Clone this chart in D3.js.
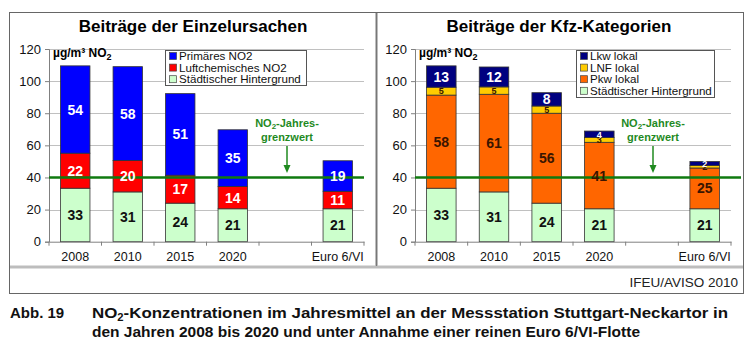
<!DOCTYPE html>
<html lang="de">
<head>
<meta charset="UTF-8">
<script src="https://d3js.org/d3.v7.min.js"></script>
<title>NO2 Stuttgart-Neckartor</title>
<style>
  body { margin: 0; background: #fff; }
  svg { display: block; font-family: "Liberation Sans", Arial, sans-serif; }
</style>
</head>
<body>
<div id="chart"></div>
<script>
// --- Daten ---
const categories = ["2008", "2010", "2015", "2020", "", "Euro 6/VI"];
const yTicks = [0, 20, 40, 60, 80, 100, 120];
const grenzwert = 40;

// linkes Diagramm: Einzelursachen
const hintergrund = [33.3, 31, 24, 20.5, null, 20.5];
const luftchemisch = [21.8, 19.6, 17.4, 13.9, null, 10.9];
const primaer = [54.4, 58.4, 50.8, 35.3, null, 19];

// rechtes Diagramm: Kfz-Kategorien
const pkw = [58, 60.8, 56, 41.4, null, 25.4];
const lnf = [4.9, 4.6, 4.5, 3, null, 1.6];
const lkw = [13.3, 12.4, 8.3, 4, null, 2.4];

const W = 752, H = 348;
const svg = d3.select("#chart").append("svg").attr("width", W).attr("height", H);

// Rahmen
svg.append("rect").attr("x", 9.5).attr("y", 12.5).attr("width", 734).attr("height", 281)
    .attr("fill", "none").attr("stroke", "#666").attr("stroke-width", 1);
svg.append("line").attr("x1", 10).attr("x2", 743).attr("y1", 267).attr("y2", 267)
    .attr("stroke", "#bdbdbd").attr("stroke-width", 3);
svg.append("line").attr("x1", 376.5).attr("x2", 376.5).attr("y1", 13).attr("y2", 266)
    .attr("stroke", "#bdbdbd").attr("stroke-width", 3);
svg.append("line").attr("x1", 376.5).attr("x2", 376.5).attr("y1", 13).attr("y2", 266)
    .attr("stroke", "#777").attr("stroke-width", 1);

const y = d3.scaleLinear().domain([0, 120]).range([241.7, 49]);

function drawPanel(p) {
    const g = svg.append("g");
    const x = d3.scaleBand().domain(categories).range([p.x0, p.x1]).padding(0);
    const bw = x.bandwidth() * 0.56;

    // Titel
    g.append("text").attr("x", p.titleX).attr("y", 32).attr("text-anchor", "middle")
        .attr("font-size", 17).attr("font-weight", "bold").text(p.title);

    // Gitterlinien
    g.selectAll(".grid").data(yTicks.slice(1)).join("line")
        .attr("x1", p.x0).attr("x2", p.x1)
        .attr("y1", d => Math.round(y(d)) + 0.5).attr("y2", d => Math.round(y(d)) + 0.5)
        .attr("stroke", "#c0c0c0");

    // Balken
    p.series.forEach((s, si) => {
        categories.forEach((c, i) => {
            if (s.values[i] == null) return;
            const base = p.series.slice(0, si).reduce((a, t) => a + t.values[i], 0);
            const top = base + s.values[i];
            g.append("rect")
                .attr("x", x(c) + (x.bandwidth() - bw) / 2)
                .attr("y", y(top))
                .attr("width", bw)
                .attr("height", y(base) - y(top))
                .attr("fill", s.color)
                .attr("stroke", "#333").attr("stroke-width", 0.8);
        });
    });

    // Achsen
    const yAxis = g.append("g").attr("transform", `translate(${p.x0},0)`)
        .call(d3.axisLeft(y).tickValues(yTicks).tickSize(4).tickPadding(4));
    yAxis.select(".domain").attr("stroke", "#808080");
    yAxis.selectAll(".tick line").attr("stroke", "#808080");
    yAxis.selectAll("text").attr("font-size", 13).attr("fill", "#111")
        .attr("font-family", "Liberation Sans, Arial, sans-serif");

    const xAxis = g.append("g").attr("transform", `translate(0,${y(0)})`)
        .call(d3.axisBottom(x).tickSize(0).tickPadding(10));
    xAxis.select(".domain").attr("stroke", "#808080");
    xAxis.selectAll("text").attr("font-size", 12.5).attr("fill", "#111")
        .attr("font-family", "Liberation Sans, Arial, sans-serif");
    g.selectAll(".xtick").data(d3.range(categories.length + 1)).join("line")
        .attr("x1", i => p.x0 + i * x.step()).attr("x2", i => p.x0 + i * x.step())
        .attr("y1", y(0)).attr("y2", y(0) + 4).attr("stroke", "#808080");

    // Grenzwert
    g.append("line").attr("x1", p.x0).attr("x2", p.lineEnd)
        .attr("y1", y(grenzwert)).attr("y2", y(grenzwert))
        .attr("stroke", "#0f7a0f").attr("stroke-width", 2.5);

    // Wertebeschriftung
    p.series.forEach((s, si) => {
        categories.forEach((c, i) => {
            if (s.values[i] == null) return;
            const base = p.series.slice(0, si).reduce((a, t) => a + t.values[i], 0);
            const mid = base + s.values[i] / 2;
            g.append("text")
                .attr("x", x(c) + x.bandwidth() / 2)
                .attr("y", y(mid))
                .attr("dy", "0.36em")
                .attr("text-anchor", "middle")
                .attr("font-size", s.values[i] < 6 ? 9 : 14)
                .attr("font-weight", "bold")
                .attr("fill", s.labelColor)
                .text(Math.round(s.values[i]));
        });
    });

    // Einheit
    g.append("text").attr("x", p.x0 + 4).attr("y", 57).attr("font-size", 12)
        .attr("font-weight", "bold")
        .html('µg/m³ NO<tspan font-size="9" dy="3">2</tspan>');

    // Legende
    const lg = g.append("g").attr("transform", `translate(${p.legX},${p.legY})`);
    lg.append("rect").attr("x", 0.5).attr("y", 0.5).attr("width", p.legW).attr("height", p.legH)
        .attr("fill", "#fff").attr("stroke", "#555");
    p.legend.forEach((s, i) => {
        const cy = 6 + i * 11.6;
        lg.append("rect").attr("x", 4.5).attr("y", cy - 3.5).attr("width", 7).attr("height", 7)
            .attr("fill", s.color).attr("stroke", "#444").attr("stroke-width", 0.7);
        lg.append("text").attr("x", 14).attr("y", cy).attr("dy", "0.36em")
            .attr("font-size", 11.6).attr("fill", "#111").text(s.name);
    });

    // Grenzwert-Hinweis
    const ax = p.noteX;
    g.append("text").attr("x", ax).attr("y", 127).attr("text-anchor", "middle")
        .attr("font-size", 11).attr("font-weight", "bold").attr("fill", "#1f8a1f")
        .html('NO<tspan font-size="8" dy="2">2</tspan><tspan dy="-2">-Jahres-</tspan>');
    g.append("text").attr("x", ax).attr("y", 141).attr("text-anchor", "middle")
        .attr("font-size", 11).attr("font-weight", "bold").attr("fill", "#1f8a1f")
        .text("grenzwert");
    g.append("line").attr("x1", ax).attr("x2", ax).attr("y1", 146).attr("y2", 167)
        .attr("stroke", "#1f8a1f").attr("stroke-width", 1.5);
    g.append("path").attr("d", `M${ax - 3.5},165 L${ax + 3.5},165 L${ax},173 Z`)
        .attr("fill", "#1f8a1f");
}

const green = { name: "Städtischer Hintergrund", color: "#ccffcc", labelColor: "#111" };

drawPanel({
    title: "Beiträge der Einzelursachen", titleX: 193,
    x0: 49, x1: 364, lineEnd: 364,
    series: [
        { ...green, values: hintergrund },
        { name: "Luftchemisches NO2", color: "#ff0000", labelColor: "#fff", values: luftchemisch },
        { name: "Primäres NO2", color: "#0000ff", labelColor: "#fff", values: primaer }
    ],
    legend: [
        { name: "Primäres NO2", color: "#0000ff" },
        { name: "Luftchemisches NO2", color: "#ff0000" },
        green
    ],
    legX: 165, legY: 50, legW: 141, legH: 35,
    noteX: 287
});

drawPanel({
    title: "Beiträge der Kfz-Kategorien", titleX: 559,
    x0: 415, x1: 731, lineEnd: 741,
    series: [
        { ...green, values: hintergrund },
        { name: "Pkw lokal", color: "#ff6600", labelColor: "#3a1500", values: pkw },
        { name: "LNF lokal", color: "#ffcc00", labelColor: "#3a1500", values: lnf },
        { name: "Lkw lokal", color: "#000080", labelColor: "#fff", values: lkw }
    ],
    legend: [
        { name: "Lkw lokal", color: "#000080" },
        { name: "LNF lokal", color: "#ffcc00" },
        { name: "Pkw lokal", color: "#ff6600" },
        green
    ],
    legX: 576, legY: 50, legW: 138, legH: 47,
    noteX: 653
});

// Quelle
svg.append("text").attr("x", 738).attr("y", 287).attr("text-anchor", "end")
    .attr("font-size", 13.5).attr("fill", "#222").text("IFEU/AVISO 2010");

// Bildunterschrift
const cap = svg.append("g").attr("font-weight", "bold").attr("font-size", 15).attr("fill", "#111");
cap.append("text").attr("x", 10).attr("y", 318).text("Abb. 19");
cap.append("text").attr("x", 92).attr("y", 318).attr("textLength", 636).attr("lengthAdjust", "spacingAndGlyphs")
    .html('NO<tspan font-size="10" dy="3">2</tspan><tspan dy="-3">-Konzentrationen im Jahresmittel an der Messstation Stuttgart-Neckartor in</tspan>');
cap.append("text").attr("x", 92).attr("y", 337).attr("textLength", 548).attr("lengthAdjust", "spacingAndGlyphs")
    .text("den Jahren 2008 bis 2020 und unter Annahme einer reinen Euro 6/VI-Flotte");
</script>
</body>
</html>
